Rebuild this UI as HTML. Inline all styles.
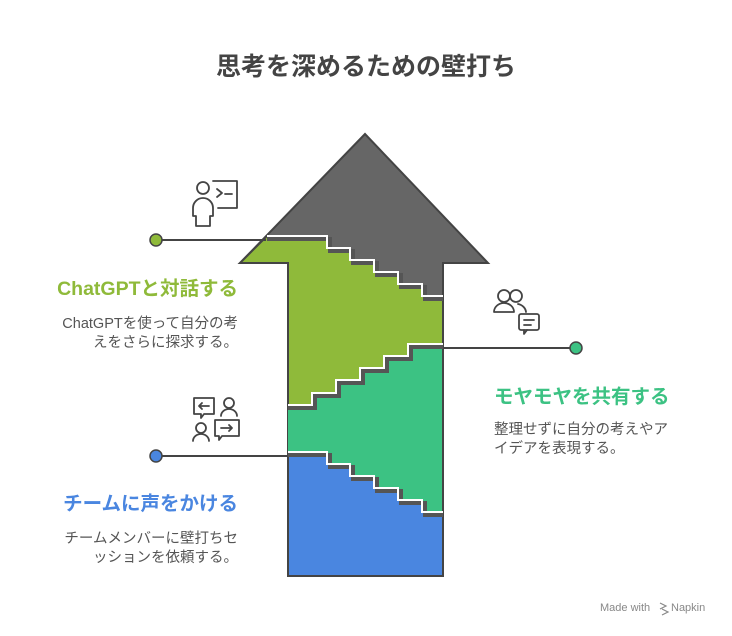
<!DOCTYPE html>
<html><head><meta charset="utf-8"><style>
body{margin:0;background:#fff;}
svg{display:block;font-family:"Liberation Sans","Noto Sans CJK JP",sans-serif;}
</style></head><body>
<svg width="732" height="636" viewBox="0 0 732 636" xmlns="http://www.w3.org/2000/svg">
<text x="366" y="75" text-anchor="middle" font-size="25" font-weight="bold" fill="#444">思考を深めるための壁打ち</text>

<polygon points="365,134 488,263 443,263 443,576 288,576 288,263 240,263" fill="#666" stroke="#444" stroke-width="2"/>
<polygon points="288,452 327,452 327,464 350,464 350,476 374,476 374,488 398,488 398,500 422,500 422,512 443,512 443,576 288,576" fill="#4a86e0" stroke="#444" stroke-width="2"/>
<polygon points="288,405 312,405 312,393 336,393 336,380 360,380 360,368 384,368 384,356 408,356 408,344 443,344 443,512 422,512 422,500 398,500 398,488 374,488 374,476 350,476 350,464 327,464 327,452 288,452" fill="#3cc283"/>
<polygon points="267,236 327,236 327,248 350,248 350,260 374,260 374,272 398,272 398,284 422,284 422,296 443,296 443,344 408,344 408,356 384,356 384,368 360,368 360,380 336,380 336,393 312,393 312,405 288,405 288,263 240,263" fill="#8fba3a"/>
<polyline points="267,236 240,263 288,263 288,405" fill="none" stroke="#444" stroke-width="2"/>
<line x1="443" y1="296" x2="443" y2="512" stroke="#444" stroke-width="2"/>
<g fill="none" stroke-linejoin="miter">
<polyline points="267,239 330,239 330,251 353,251 353,263 377,263 377,275 401,275 401,287 425,287 425,299 443,299" stroke="#555" stroke-width="4"/>
<polyline points="267,236 327,236 327,248 350,248 350,260 374,260 374,272 398,272 398,284 422,284 422,296 443,296" stroke="#fff" stroke-width="2"/>
<polyline points="288,408 315,408 315,396 339,396 339,383 363,383 363,371 387,371 387,359 411,359 411,347 443,347" stroke="#555" stroke-width="4"/>
<polyline points="288,405 312,405 312,393 336,393 336,380 360,380 360,368 384,368 384,356 408,356 408,344 443,344" stroke="#fff" stroke-width="2"/>
<polyline points="288,455 330,455 330,467 353,467 353,479 377,479 377,491 401,491 401,503 425,503 425,515 443,515" stroke="#555" stroke-width="4"/>
<polyline points="288,452 327,452 327,464 350,464 350,476 374,476 374,488 398,488 398,500 422,500 422,512 443,512" stroke="#fff" stroke-width="2"/>
</g>

<line x1="156" y1="240" x2="266" y2="240" stroke="#444" stroke-width="2"/>
<circle cx="156" cy="240" r="6" fill="#8fba3a" stroke="#444" stroke-width="1.5"/>
<line x1="443" y1="348" x2="576" y2="348" stroke="#444" stroke-width="2"/>
<circle cx="576" cy="348" r="6" fill="#3cc283" stroke="#444" stroke-width="1.5"/>
<line x1="156" y1="456" x2="288" y2="456" stroke="#444" stroke-width="2"/>
<circle cx="156" cy="456" r="6" fill="#4a86e0" stroke="#444" stroke-width="1.5"/>

<g fill="none" stroke="#444" stroke-width="1.8" stroke-linecap="round" stroke-linejoin="round">
<circle cx="203" cy="188" r="6"/>
<path d="M196,226 v-10 h-3 v-8 a10,10 0 0 1 20,0 v8 h-3 v10 z"/>
<path d="M213,181 h24 v27 h-19"/>
<path d="M217,189 l5,4 l-5,4 M225,194 h7"/>
<circle cx="504" cy="296" r="6"/><path d="M494,312 a10,9 0 0 1 20,0 z"/>
<circle cx="516" cy="296" r="6"/><path d="M518,304 a10,9 0 0 1 8,8"/>
<rect x="519" y="314" width="20" height="16" rx="2"/><path d="M524,330 v4 l3,-4 M524,320 h10 M524,325 h7"/>
<path d="M194,398 h20 v16 h-10 l-3,4 v-4 h-7 z"/><path d="M209,406 h-10 m3,-3 l-3,3 l3,3"/>
<circle cx="229" cy="403" r="5"/><path d="M221,416 a8,7 0 0 1 16,0"/>
<circle cx="201" cy="428" r="5"/><path d="M193,441 a8,7 0 0 1 16,0"/>
<path d="M215,420 h24 v16 h-17 l-3,4 v-4 h-4 z"/><path d="M221,428 h11 m-3,-3 l3,3 l-3,3"/>
</g>

<text x="238" y="295" text-anchor="end" font-size="19.5" font-weight="bold" fill="#8fba3a">ChatGPTと対話する</text>
<text x="238" y="328" text-anchor="end" font-size="14.5" fill="#555">ChatGPTを使って自分の考</text>
<text x="238" y="347" text-anchor="end" font-size="14.5" fill="#555">えをさらに探求する。</text>

<text x="494" y="403" font-size="19.5" font-weight="bold" fill="#3cc283">モヤモヤを共有する</text>
<text x="494" y="434" font-size="14.5" fill="#555">整理せずに自分の考えやア</text>
<text x="494" y="453" font-size="14.5" fill="#555">イデアを表現する。</text>

<text x="238" y="510" text-anchor="end" font-size="19.5" font-weight="bold" fill="#4a86e0">チームに声をかける</text>
<text x="238" y="543" text-anchor="end" font-size="14.5" fill="#555">チームメンバーに壁打ちセ</text>
<text x="238" y="562" text-anchor="end" font-size="14.5" fill="#555">ッションを依頼する。</text>

<text x="600" y="611" font-size="11" fill="#888">Made with</text>
<path d="M660,603 l6,3 l-6,3 M662,609 l6,3 l-6,3" fill="none" stroke="#888" stroke-width="1.2"/>
<text x="671" y="611" font-size="11" fill="#888">Napkin</text>
</svg>
</body></html>
